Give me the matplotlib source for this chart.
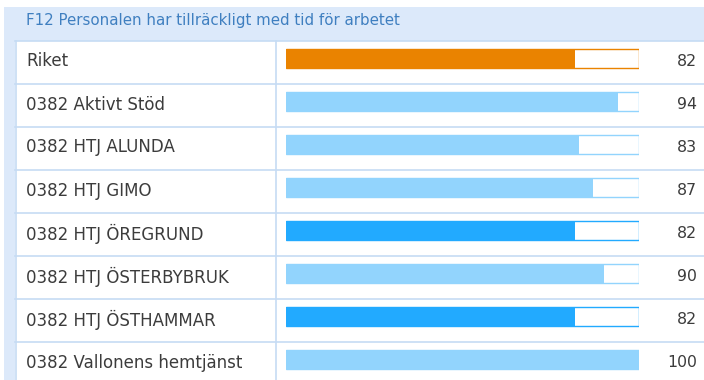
import matplotlib
matplotlib.use("Agg")
import matplotlib.pyplot as plt
from matplotlib.patches import Rectangle
from matplotlib.lines import Line2D
from matplotlib.transforms import blended_transform_factory

title = "F12 Personalen har tillräckligt med tid för arbetet"
units = ["Riket", "0382 Aktivt Stöd", "0382 HTJ ALUNDA", "0382 HTJ GIMO",
         "0382 HTJ ÖREGRUND", "0382 HTJ ÖSTERBYBRUK", "0382 HTJ ÖSTHAMMAR",
         "0382 Vallonens hemtjänst"]
values = [82, 94, 83, 87, 82, 90, 82, 100]
colors = ["#ea8300", "#92d4fd", "#92d4fd", "#92d4fd",
          "#22aaff", "#92d4fd", "#22aaff", "#92d4fd"]

W, H = 704, 380
fig = plt.figure(figsize=(W / 100, H / 100), dpi=100)
fig.patch.set_facecolor("white")


def fx(x):
    return x / W


def fy(y):
    return 1 - y / H


# background panel and white table
fig.patches.append(Rectangle((fx(4), 0), 1, fy(7), transform=fig.transFigure,
                             facecolor="#dce9fa", edgecolor="none", zorder=0))
fig.patches.append(Rectangle((fx(15), 0), 1, fy(41), transform=fig.transFigure,
                             facecolor="white", edgecolor="none", zorder=0))
fig.text(fx(26), fy(21), title, color="#3f7fc0", fontsize=10.8,
         va="center", ha="left")

# bar area: x 0..100 from 286 px to 639 px, rows of 43 px starting at 41 px
row_h = 43
top = 41
ax = fig.add_axes([fx(286), 0, fx(639) - fx(286), fy(top)])
ax.set_zorder(3)
ax.patch.set_visible(False)
n_rows = (H - top) / row_h
ax.set_xlim(0, 100)
ax.set_ylim(n_rows, 0)
ax.axis("off")

grid = "#c6dcf4"
tr = blended_transform_factory(fig.transFigure, ax.transData)
for i in range(len(units) + 1):
    fig.lines.append(Line2D([fx(15), 1], [i, i], transform=tr, color=grid, lw=1.2))
fig.lines.append(Line2D([fx(15.5), fx(15.5)], [0, fy(top)], transform=fig.transFigure,
                        color=grid, lw=1.2))
fig.lines.append(Line2D([fx(276), fx(276)], [0, fy(top)], transform=fig.transFigure,
                        color=grid, lw=1.2))

bar_off = 8 / row_h
bar_h = 19 / row_h
for i, (name, v, c) in enumerate(zip(units, values, colors)):
    ax.barh(i + bar_off, 100, height=bar_h, align="edge", color="white",
            edgecolor=c, linewidth=1.0, zorder=2)
    ax.barh(i + bar_off, v, height=bar_h, align="edge", color=c,
            edgecolor="none", zorder=3)
    ty = i + 0.5 - 1 / row_h
    fig.text(fx(26), ty, name, transform=tr,
             fontsize=12, color="#3c3c3c", va="center", ha="left")
    fig.text(fx(697), ty, str(v), transform=tr,
             fontsize=11.3, color="#3c3c3c", va="center", ha="right")

fig.savefig("out.png", dpi=100)
